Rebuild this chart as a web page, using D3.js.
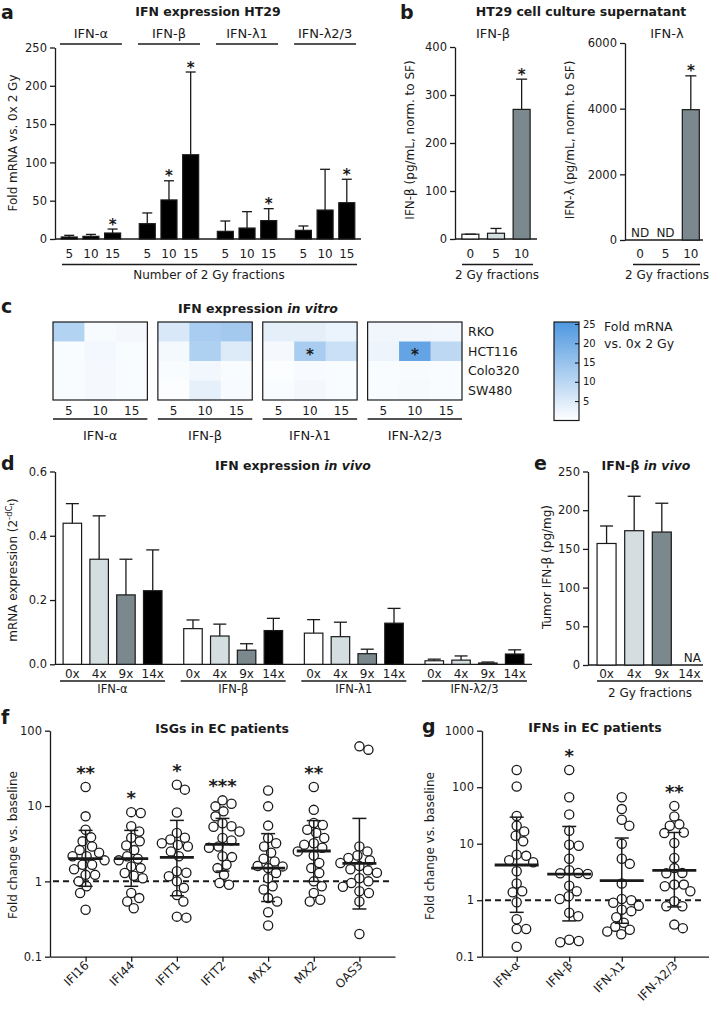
<!DOCTYPE html>
<html><head><meta charset="utf-8">
<script src="https://cdn.jsdelivr.net/npm/d3@7"></script>
<style>
body{margin:0;background:#fff}
svg{display:block;font-family:"DejaVu Sans",sans-serif}
</style></head>
<body><svg id="chart" width="709" height="1013"></svg>
<script>
// ---------------- DATA ----------------
// Panel a: IFN expression HT29 (fold mRNA vs 0x 2 Gy)
const aGenes = ["IFN-α","IFN-β","IFN-λ1","IFN-λ2/3"];
const aFractions = ["5","10","15"];
const aMean  = [[2.6,3.5,7.8],[20,51,110],[10,14.3,24],[11.3,37.8,47.4]];
const aUpper = [[4.8,6,13],[34,76,218],[23.5,35.7,39.6],[17,91,78]];
const aSig   = [["","","*"],["","*","*"],["","","*"],["","","*"]];
const aTicks = [0,50,100,150,200,250];

// Panel b: HT29 supernatant
const bFractions = ["0","5","10"];
const bBetaMean = [10,12,270];
const bBetaUpper = [10,22,333];
const bBetaSig = ["","","*"];
const bBetaTicks = [0,100,200,300,400];
const bLambdaMean = [null,null,3970];
const bLambdaUpper = [null,null,5000];
const bLambdaSig = ["","","*"];
const bLambdaNote = ["ND","ND",""];
const bLambdaTicks = [0,2000,4000,6000];

// Panel c: heatmaps (rows = cell lines, cols = fractions)
const cLines = ["RKO","HCT116","Colo320","SW480"];
const cFractions = ["5","10","15"];
const cAlpha    = [[10.8,1.0,1.6],[0.8,1.8,0.8],[0.8,1.4,0.8],[0.8,1.4,0.8]];
const cBeta     = [[5.5,12.2,13],[1.5,11.5,4.8],[0.8,2,0.8],[0.6,3.6,1.2]];
const cLambda1  = [[3.8,3.8,2.8],[1.4,12.2,7.5],[0.6,1.2,0.8],[0.8,1.6,0.8]];
const cLambda23 = [[2.2,2.2,2.0],[2.6,22,9.5],[0.8,1.0,0.8],[0.8,1.3,0.8]];
const cStars = [["IFN-λ1","HCT116","10"],["IFN-λ2/3","HCT116","10"]];
const cLegendTicks = [5,10,15,20,25];

// Panel d: IFN expression in vivo
const dFractions = ["0x","4x","9x","14x"];
const dMean  = [[0.439,0.327,0.216,0.229],[0.111,0.088,0.044,0.105],[0.097,0.086,0.033,0.128],[0.011,0.013,0.004,0.032]];
const dUpper = [[0.50,0.462,0.327,0.356],[0.138,0.125,0.064,0.143],[0.139,0.131,0.047,0.174],[0.016,0.026,0.007,0.045]];
const dTicks = [0,0.2,0.4,0.6];

// Panel e: IFN-β in vivo
const eMean  = [157,173.5,171.8,null];
const eUpper = [179.6,218,209,null];
const eNote  = ["","","","NA"];
const eTicks = [0,50,100,150,200,250];

// Panel f: ISGs in EC patients
const fGenes = ["IFI16","IFI44","IFIT1","IFIT2","MX1","MX2","OAS3"];
const fPoints = [
  [17.9,7.3,4.85,3.84,3.4,2.9,2.6,2.4,2.15,2.15,1.9,1.66,1.66,1.45,1.22,1.22,1.0,0.86,0.7,0.42],
  [8.1,8.3,5.4,4.6,3.8,3.4,3.0,2.6,2.15,2.0,1.9,1.58,1.5,1.29,1.19,1.1,0.7,0.6,0.54,0.44],
  [19.2,16.5,8.2,4.4,3.8,3.6,3.2,3.05,2.9,2.5,2.15,1.36,1.3,1.17,1.0,0.82,0.66,0.54,0.34,0.33],
  [11.9,10.7,9.9,8.5,7.3,5.9,5.4,5.3,4.6,3.76,3.5,2.9,2.8,2.15,2.1,1.66,1.5,1.22,0.95,0.9],
  [16.1,9.9,5.5,3.76,3.2,2.9,2.4,2.0,1.84,1.6,1.58,1.5,1.29,1.1,0.86,0.78,0.6,0.54,0.39,0.26],
  [17.9,8.9,5.95,5.6,4.85,4.4,3.76,3.2,3.07,2.8,2.5,2.2,1.75,1.5,1.29,1.0,0.86,0.7,0.57,0.54],
  [62,56,2.9,2.5,2.2,2.04,1.9,1.75,1.6,1.45,1.4,1.3,1.1,1.0,0.95,0.85,0.74,0.7,0.54,0.2]
];
const fMean  = [2.0,2.0,2.08,3.1,1.5,2.53,1.73];
const fLower = [0.86,0.86,0.645,1.37,0.54,1.0,0.43];
const fUpper = [4.75,4.75,6.45,6.85,4.3,6.4,6.85];
const fSig   = ["**","*","*","***","","**",""];
const fTicks = [0.1,1,10,100];

// Panel g: IFNs in EC patients
const gGenes = ["IFN-α","IFN-β","IFN-λ1","IFN-λ2/3"];
const gPoints = [
  [202,103,31,20.8,16.5,13.8,11,6.4,6.1,5.1,4.7,3.25,1.97,1.44,1.38,0.92,0.46,0.31,0.31,0.15],
  [202,66.5,33,17,9.6,9.2,5.4,3.4,3.04,3.0,2.9,1.8,1.44,1.18,1.05,0.6,0.52,0.2,0.19,0.18],
  [66.5,41,26.5,20.8,10,5.4,4.4,1.97,1.05,1.0,0.9,0.8,0.68,0.64,0.5,0.4,0.34,0.3,0.28,0.25],
  [46.7,30.4,22,20.8,15.8,15.4,10.3,5.6,3.7,3.04,3.0,1.89,1.89,1.77,1.44,0.96,0.78,0.78,0.37,0.32]
];
const gMean  = [4.2,2.9,2.22,3.38];
const gLower = [0.61,0.43,0.39,0.76];
const gUpper = [29.5,20.2,12.6,15.8];
const gSig   = ["","*","","**"];
const gTicks = [0.1,1,10,100,1000];

// ---------------- STYLE ----------------
const INK = "#1a1a1a";
const fillsB = ["#ffffff","#d4dde0","#7b888d"];
const fillsD = ["#ffffff","#d4dde0","#7b888d","#000000"];

const svg = d3.select("#chart");

function T(x,y,s,o={}){
  const t = svg.append("text").attr("x",x).attr("y",y)
    .attr("font-size",o.size||12).attr("text-anchor",o.anchor||"middle")
    .attr("fill",INK).text(s);
  if(o.bold) t.attr("font-weight","bold");
  if(o.rot!=null) t.attr("transform",`rotate(${o.rot},${x},${y})`);
  return t;
}
function L(x1,y1,x2,y2,w,dash){
  return svg.append("line").attr("x1",x1).attr("y1",y1).attr("x2",x2).attr("y2",y2)
    .attr("stroke",INK).attr("stroke-width",w||1.3).attr("stroke-dasharray",dash||null);
}
function title(x,y,plain,ital){
  const t = T(x,y,plain,{bold:true,size:12.5});
  if(ital) t.append("tspan").attr("font-style","italic").text(ital);
  return t;
}
function yAxis(x, scale, ticks, fmt, size){
  const g = svg.append("g").attr("transform",`translate(${x},0)`)
    .call(d3.axisLeft(scale).tickValues(ticks).tickFormat(fmt).tickSize(5).tickSizeOuter(0).tickPadding(3));
  g.attr("font-family",null).attr("font-size",size||11.5);
  g.select(".domain").attr("stroke",INK).attr("stroke-width",1.3);
  g.selectAll(".tick line").attr("stroke",INK).attr("stroke-width",1.3);
  g.selectAll(".tick text").attr("fill",INK);
  return g;
}
function drawBars(xs, y, mean, upper, fills, bw, cap, sig){
  mean.forEach((m,i)=>{
    if(m==null) return;
    const cx = xs[i];
    svg.append("rect").attr("x",cx-bw/2).attr("y",y(m)).attr("width",bw).attr("height",y(0)-y(m))
      .attr("fill",fills[i]).attr("stroke",INK).attr("stroke-width",1.2);
    L(cx,y(m),cx,y(upper[i]));
    L(cx-cap,y(upper[i]),cx+cap,y(upper[i]));
    if(sig && sig[i]) T(cx,y(upper[i])+0.5,sig[i],{size:15,bold:true});
  });
}
const panelLetter = (x,y,s)=>T(x,y,s,{bold:true,size:19,anchor:"start"});

// ---------------- PANEL a ----------------
panelLetter(1,19,"a");
title(208,16,"IFN expression HT29");
{
  const y = d3.scaleLinear().domain([0,250]).range([239,47.5]);
  const xg = d3.scalePoint().domain(aGenes).range([55,361]).padding(0.46);
  const xf = d3.scalePoint().domain(aFractions).range([-21.7,21.7]);
  yAxis(55,y,aTicks,d3.format("d"));
  L(55,y(0),361,y(0));
  aGenes.forEach((gname,gi)=>{
    const gc = xg(gname);
    T(gc,38,gname,{size:13});
    L(gc-31,44,gc+31,44);
    const xs = aFractions.map(f=>gc+xf(f));
    drawBars(xs,y,aMean[gi],aUpper[gi],["#000","#000","#000"],16,5,aSig[gi]);
    aFractions.forEach((f,fi)=>T(xs[fi],258,f,{size:12}));
  });
  L(62,264.5,357,264.5);
  T(209,279,"Number of 2 Gy fractions",{size:12});
  T(17,143,"Fold mRNA vs. 0x 2 Gy",{size:12,rot:-90});
}

// ---------------- PANEL b ----------------
panelLetter(400,19,"b");
title(581,16,"HT29 cell culture supernatant");
{
  const y = d3.scaleLinear().domain([0,400]).range([239,47]);
  const x = d3.scalePoint().domain(bFractions).range([455,537]).padding(0.6);
  yAxis(455,y,bBetaTicks,d3.format("d"));
  L(455,y(0),537,y(0));
  T(493,38,"IFN-β",{size:13});
  const xs = bFractions.map(f=>x(f));
  drawBars(xs,y,bBetaMean,bBetaUpper,fillsB,17,5.5,bBetaSig);
  bFractions.forEach((f,i)=>T(xs[i],258,f,{size:12}));
  L(462,264.5,533,264.5);
  T(497,279,"2 Gy fractions",{size:12});
  T(414,140,"IFN-β (pg/mL, norm. to SF)",{size:12,rot:-90});
}
{
  const y = d3.scaleLinear().domain([0,6000]).range([240,43]);
  const x = d3.scalePoint().domain(bFractions).range([625,706]).padding(0.6);
  yAxis(625,y,bLambdaTicks,d3.format("d"));
  L(625,y(0),703,y(0));
  T(667,38,"IFN-λ",{size:13});
  const xs = bFractions.map(f=>x(f));
  drawBars(xs,y,bLambdaMean,bLambdaUpper,fillsB,17,5.5,bLambdaSig);
  bLambdaNote.forEach((n,i)=>{ if(n) T(xs[i],236.5,n,{size:12}); });
  bFractions.forEach((f,i)=>T(xs[i],258,f,{size:12}));
  L(633,264.5,700,264.5);
  T(667,279,"2 Gy fractions",{size:12});
  T(574,140,"IFN-λ (pg/mL, norm. to SF)",{size:12,rot:-90});
}

// ---------------- PANEL c ----------------
panelLetter(1,313,"c");
title(258,313,"IFN expression ","in vitro");
{
  const cData = [cAlpha,cBeta,cLambda1,cLambda23];
  const gx = d3.scaleBand().domain(aGenes).range([53,462]).paddingInner(0.1);
  const ry = d3.scaleBand().domain(cLines).range([322,400]);
  const color = d3.scaleLinear().domain([0,25]).range(["#ffffff","#4f98e0"]).clamp(true);
  aGenes.forEach((gname,gi)=>{
    const x0 = gx(gname), bw = gx.bandwidth();
    const cx = d3.scaleBand().domain(cFractions).range([x0,x0+bw]);
    cLines.forEach((ln,ri)=>cFractions.forEach((fr,fi)=>{
      svg.append("rect").attr("x",cx(fr)).attr("y",ry(ln))
        .attr("width",cx.bandwidth()+0.4).attr("height",ry.bandwidth()+0.4)
        .attr("fill",color(cData[gi][ri][fi]));
    }));
    svg.append("rect").attr("x",x0).attr("y",322).attr("width",bw).attr("height",78)
      .attr("fill","none").attr("stroke",INK).attr("stroke-width",1.2);
    cFractions.forEach(fr=>T(cx(fr)+cx.bandwidth()/2,415,fr,{size:12}));
    L(x0,419,x0+bw,419);
    T(x0+bw/2,440,gname,{size:13});
    cStars.filter(s=>s[0]===gname).forEach(s=>{
      T(cx(s[2])+cx.bandwidth()/2, ry(s[1])+ry.bandwidth()/2+8.5, "*",{size:15,bold:true});
    });
  });
  cLines.forEach(ln=>T(468,ry(ln)+ry.bandwidth()/2+4.5,ln,{size:12.5,anchor:"start"}));
  // legend
  const grad = svg.append("defs").append("linearGradient").attr("id","lg")
    .attr("x1",0).attr("y1",0).attr("x2",0).attr("y2",1);
  grad.append("stop").attr("offset","0%").attr("stop-color",color(25));
  grad.append("stop").attr("offset","100%").attr("stop-color",color(0));
  svg.append("rect").attr("x",554).attr("y",322).attr("width",25).attr("height",98.5)
    .attr("fill","url(#lg)").attr("stroke",INK).attr("stroke-width",1.2);
  const ly = d3.scaleLinear().domain([0,25]).range([420.3,324]);
  const lg = svg.append("g").attr("transform","translate(579,0)")
    .call(d3.axisRight(ly).tickValues(cLegendTicks).tickSize(-4).tickPadding(4));
  lg.attr("font-family",null).attr("font-size",10);
  lg.select(".domain").remove();
  lg.selectAll(".tick line").attr("stroke",INK).attr("stroke-width",1.1);
  lg.selectAll(".tick text").attr("fill",INK);
  T(604,331,"Fold mRNA",{size:12.5,anchor:"start"});
  T(604,348,"vs. 0x 2 Gy",{size:12.5,anchor:"start"});
}

// ---------------- PANEL d ----------------
panelLetter(1,470,"d");
title(293,470,"IFN expression ","in vivo");
{
  const y = d3.scaleLinear().domain([0,0.6]).range([664.3,471.5]);
  const xg = d3.scalePoint().domain(aGenes).range([55,532]).padding(0.477);
  const xf = d3.scalePoint().domain(dFractions).range([-40.2,40.2]);
  yAxis(55,y,dTicks,d3.format(".1f"));
  L(55,y(0),532,y(0));
  aGenes.forEach((gname,gi)=>{
    const gc = xg(gname);
    const xs = dFractions.map(f=>gc+xf(f));
    drawBars(xs,y,dMean[gi],dUpper[gi],fillsD,18.5,6.5,null);
    dFractions.forEach((f,fi)=>T(xs[fi],678,f,{size:12}));
    L(gc-52.5,681,gc+52.5,681);
    T(gc,692.5,gname,{size:11.5});
  });
  const t = T(17,570,"mRNA expression (2",{size:12,rot:-90});
  t.append("tspan").attr("dy",-5).attr("font-size",8.5).text("-dC");
  t.append("tspan").attr("dy",2).attr("font-size",6.5).text("t");
  t.append("tspan").attr("dy",3).attr("font-size",12).text(")");
}

// ---------------- PANEL e ----------------
panelLetter(534,470,"e");
title(646,470,"IFN-β ","in vivo");
{
  const y = d3.scaleLinear().domain([0,250]).range([665,471.5]);
  const x = d3.scalePoint().domain(dFractions).range([590,706]).padding(0.6);
  yAxis(588,y,eTicks,d3.format("d"));
  L(588,y(0),703,y(0));
  const xs = dFractions.map(f=>x(f));
  drawBars(xs,y,eMean,eUpper,fillsD,19,6.5,null);
  eNote.forEach((n,i)=>{ if(n) T(xs[i]+3,662,n,{size:12}); });
  dFractions.forEach((f,i)=>T(xs[i],678,f,{size:12}));
  L(597,681,703,681);
  T(650,697,"2 Gy fractions",{size:12});
  T(551,567,"Tumor IFN-β (pg/mg)",{size:12,rot:-90});
}

// ---------------- PANELS f, g (dot plots) ----------------
function dotPanel(genes, pts, mean, lo, hi, sig, x, y, x0, x1, meanHW, capHW){
  const y1 = y(1);
  L(x0+3,y1,x1-4,y1,2,"6,4");
  genes.forEach((gname,i)=>{
    const cx = x(gname);
    const placed = [];
    const sorted = pts[i].slice().sort((a,b)=>b-a);
    const D = 9.2;
    sorted.forEach(v=>{
      const py = y(v);
      let off = 0;
      for(let k=0;k<200;k++){
        const c = (k%2===1?1:-1)*Math.ceil(k/2)*0.5;
        if(placed.every(p=>Math.hypot(p[0]-c,p[1]-py)>=D)){ off=c; break; }
      }
      placed.push([off,py]);
    });
    placed.forEach(p=>{
      svg.append("circle").attr("cx",cx+p[0]).attr("cy",p[1]).attr("r",4.6)
        .attr("fill","#fff").attr("stroke",INK).attr("stroke-width",1.3);
    });
    L(cx,y(lo[i]),cx,y(hi[i]),1.5);
    L(cx-capHW,y(lo[i]),cx+capHW,y(lo[i]),1.5);
    L(cx-capHW,y(hi[i]),cx+capHW,y(hi[i]),1.5);
    L(cx-meanHW,y(mean[i]),cx+meanHW,y(mean[i]),2.8);
    if(sig[i]) T(cx,y(d3.max(pts[i]))-8,sig[i],{size:18,bold:true});
    T(cx+4,966,gname,{size:12,anchor:"end",rot:-45});
  });
}
function logAxes(x, y, ticks, ax){
  yAxis(ax,y,ticks,d=>d<1?"0.1":d3.format("d")(d),11.5);
  const g = svg.append("g").attr("transform",`translate(0,${y.range()[0]})`)
    .call(d3.axisBottom(x).tickSize(5).tickSizeOuter(0).tickFormat(""));
  g.select(".domain").attr("stroke",INK).attr("stroke-width",1.3);
  g.selectAll(".tick line").attr("stroke",INK).attr("stroke-width",1.3);
}

panelLetter(1,724,"f");
title(222,733,"ISGs in EC patients");
{
  const y = d3.scaleLog().domain([0.1,100]).range([956.7,730.7]);
  const x = d3.scalePoint().domain(fGenes).range([50,395]).padding(0.78);
  logAxes(x,y,fTicks,50);
  dotPanel(fGenes,fPoints,fMean,fLower,fUpper,fSig,x,y,50,395,17,7);
  T(17,845,"Fold change vs. baseline",{size:12,rot:-90});
}

panelLetter(422,733,"g");
title(595,732,"IFNs in EC patients");
{
  const y = d3.scaleLog().domain([0.1,1000]).range([956.7,730.7]);
  const x = d3.scalePoint().domain(gGenes).range([482,709]).padding(0.66);
  logAxes(x,y,gTicks,482);
  dotPanel(gGenes,gPoints,gMean,gLower,gUpper,gSig,x,y,482,709,22,7);
  T(434,846,"Fold change vs. baseline",{size:12,rot:-90});
}
</script></body></html>
